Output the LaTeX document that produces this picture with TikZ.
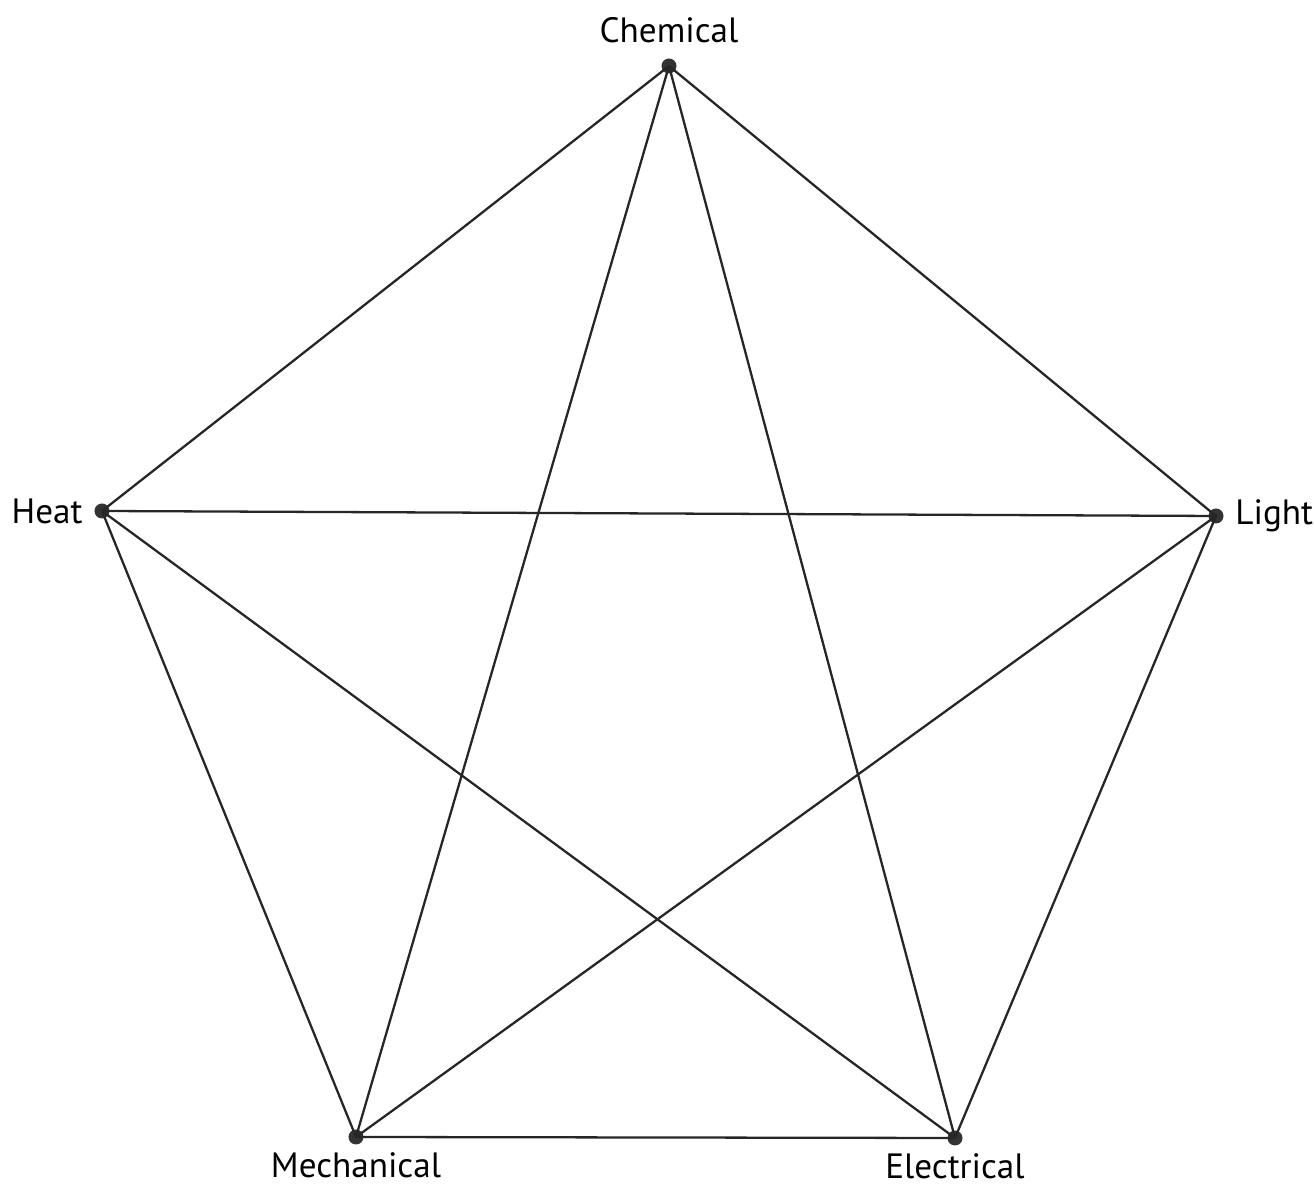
\documentclass[tikz,border=0pt]{standalone}
\usepackage{fontspec}
\setmainfont{PT Sans}
\usetikzlibrary{positioning}
\tikzset{
    form/.style      = {circle, fill=black!80, inner sep=0pt, minimum size=0.15cm},
    formlabel/.style = {font=\normalsize, inner sep=2pt},
    wandel/.style    = {line width=0.65pt, black!85}
}

\begin{document}
\begin{tikzpicture}[x=0.01cm, y=-0.01cm]
        \useasboundingbox (0,0) rectangle (1314,1186);
        \node[form, label={[formlabel, label distance=2pt]above:Chemical}] (chem) at (669,66) {};
        \node[form, label={[formlabel, label distance=1pt]left:Heat}] (heat) at (102,511) {};
        \node[form, label={[formlabel, label distance=1pt]right:Light}] (light) at (1216,516) {};
        \node[form, label={[formlabel, label distance=0pt]below:Mechanical}] (mech) at (356,1137) {};
        \node[form, label={[formlabel, label distance=0pt]below:Electrical}] (elec) at (955,1138) {};

        \foreach \a/\b in {chem/heat, chem/light, chem/mech, chem/elec,
                           heat/light, heat/mech, heat/elec,
                           light/mech, light/elec, mech/elec}
            \draw[wandel] (\a.center) -- (\b.center);
    \end{tikzpicture}
\end{document}
